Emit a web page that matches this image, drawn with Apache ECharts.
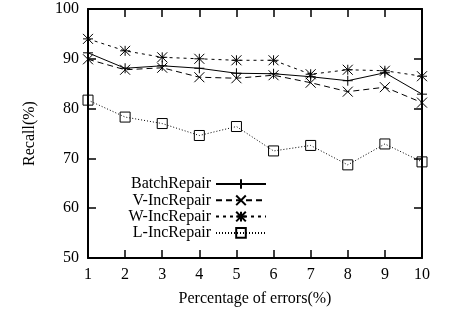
<!DOCTYPE html>
<html>
<head>
<meta charset="utf-8">
<script src="https://cdn.jsdelivr.net/npm/echarts@6/dist/echarts.min.js"></script>
<style>
  html, body { margin: 0; padding: 0; background: #fff; }
  #chart { width: 449px; height: 313px; }
</style>
</head>
<body>
<div id="chart"></div>
<script>
// x positions: percentage of errors
const errorPct = [1, 2, 3, 4, 5, 6, 7, 8, 9, 10];

// recall values
const batchRepair = [91.2, 88.1, 88.6, 88.1, 87.1, 87.0, 86.4, 85.6, 87.2, 82.9];
const vIncRepair  = [89.9, 87.8, 88.2, 86.3, 86.1, 86.7, 85.2, 83.4, 84.3, 81.2];
const wIncRepair  = [94.0, 91.6, 90.3, 90.0, 89.7, 89.7, 86.9, 87.8, 87.6, 86.5];
const lIncRepair  = [81.7, 78.3, 77.0, 74.6, 76.4, 71.5, 72.6, 68.7, 72.9, 69.3];

const yTicks = [50, 60, 70, 80, 90, 100];

const FONT = "'Liberation Serif', 'DejaVu Serif', serif";

// gnuplot-like point types
const SYM_PLUS = "path://M5,0L5,10M0,5L10,5";
const SYM_CROSS = "path://M0,0L10,10M10,0L0,10";
const SYM_STAR = "path://M5,0L5,10M0,5L10,5M0,0L10,10M10,0L0,10";
const SYM_BOX = "path://M0,0L10,0L10,10L0,10Z";

function makeSeries(name, values, symbol, size, dash) {
  return {
    name,
    type: "line",
    data: errorPct.map((x, i) => [x, values[i]]),
    symbol,
    symbolSize: size,
    showSymbol: true,
    lineStyle: { color: "#000", width: 1, type: dash },
    itemStyle: { color: "none", borderColor: "#000", borderWidth: 1 },
    emphasis: { disabled: true },
    animation: false,
  };
}

const chart = echarts.init(document.getElementById("chart"), null, { renderer: "canvas" });

const axisCommon = {
  axisLine: { show: true, lineStyle: { color: "#000", width: 2 } },
  axisTick: { show: true, inside: true, length: 8, lineStyle: { color: "#000", width: 1.5 } },
  splitLine: { show: false },
};

chart.setOption({
  animation: false,
  grid: { left: 88, right: 27, top: 9, bottom: 55 },
  legend: {
    orient: "vertical",
    align: "right",
    right: 182,
    top: 176,
    padding: 0,
    itemGap: 0.3,
    itemWidth: 50,
    itemHeight: 12,
    textStyle: { fontFamily: FONT, fontSize: 16, color: "#000", lineHeight: 16, height: 16 },
    data: ["BatchRepair", "V-IncRepair", "W-IncRepair", "L-IncRepair"],
  },
  xAxis: [
    {
      type: "value",
      min: 1,
      max: 10,
      interval: 1,
      ...axisCommon,
      axisLabel: { color: "#000", fontFamily: FONT, fontSize: 16, margin: 9 },
      name: "Percentage of errors(%)",
      nameLocation: "middle",
      nameGap: 33,
      nameTextStyle: { color: "#000", fontFamily: FONT, fontSize: 16 },
    },
    {
      type: "value",
      position: "top",
      min: 1,
      max: 10,
      interval: 1,
      ...axisCommon,
      axisLabel: { show: false },
    },
  ],
  yAxis: [
    {
      type: "value",
      min: yTicks[0],
      max: yTicks[yTicks.length - 1],
      interval: 10,
      ...axisCommon,
      axisLabel: { color: "#000", fontFamily: FONT, fontSize: 16, margin: 9 },
      name: "Recall(%)",
      nameLocation: "middle",
      nameGap: 50,
      nameTextStyle: { color: "#000", fontFamily: FONT, fontSize: 16 },
    },
    {
      type: "value",
      position: "right",
      min: yTicks[0],
      max: yTicks[yTicks.length - 1],
      interval: 10,
      ...axisCommon,
      axisLabel: { show: false },
    },
  ],
  series: [
    makeSeries("BatchRepair", batchRepair, SYM_PLUS, 10, "solid"),
    makeSeries("V-IncRepair", vIncRepair, SYM_CROSS, 10, [6, 4]),
    makeSeries("W-IncRepair", wIncRepair, SYM_STAR, 10, [3, 4]),
    makeSeries("L-IncRepair", lIncRepair, SYM_BOX, 10, [1, 2]),
  ],
});
</script>
</body>
</html>
